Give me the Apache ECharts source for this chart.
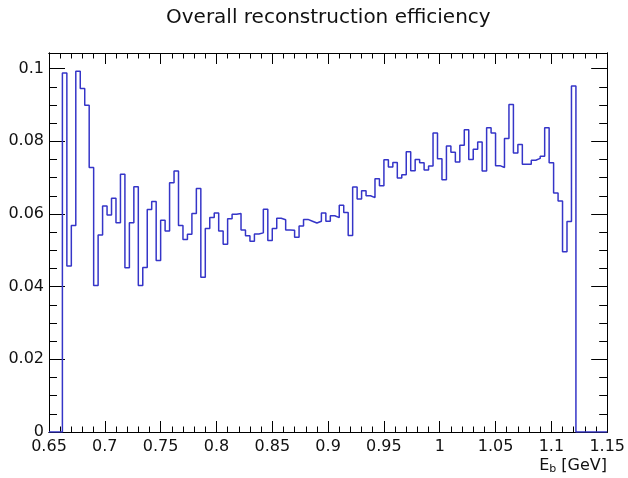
<!DOCTYPE html>
<html>
<head>
<meta charset="utf-8">
<script src="https://cdn.jsdelivr.net/npm/echarts@6/dist/echarts.min.js"></script>
<style>
html,body{margin:0;padding:0;background:#fff;}
#chart{width:628px;height:478px;}
</style>
</head>
<body>
<div id="chart"></div>
<script>
// Histogram binning (GeV)
const binLow = 0.662;
const binWidth = 0.004;
// Efficiency per bin
const efficiency = [
  0.0988, 0.0457, 0.0568, 0.0993, 0.0945, 0.0899, 0.0728, 0.0403, 0.0542, 0.0622,
  0.0597, 0.0643, 0.0576, 0.0709, 0.0452, 0.0576, 0.0675, 0.0403, 0.0453, 0.0612,
  0.0634, 0.0472, 0.0583, 0.0553, 0.0686, 0.0718, 0.0568, 0.0530, 0.0544, 0.0601,
  0.0670, 0.0426, 0.0560, 0.0590, 0.0603, 0.0553, 0.0517, 0.0587, 0.0599, 0.0601,
  0.0556, 0.0540, 0.0525, 0.0545, 0.0548, 0.0613, 0.0527, 0.0560, 0.0588, 0.0584,
  0.0556, 0.0555, 0.0536, 0.0567, 0.0585, 0.0580, 0.0575, 0.0580, 0.0603, 0.0580,
  0.0595, 0.0590, 0.0624, 0.0604, 0.0541, 0.0674, 0.0641, 0.0664, 0.0650, 0.0645,
  0.0697, 0.0678, 0.0749, 0.0729, 0.0742, 0.0699, 0.0708, 0.0771, 0.0719, 0.0750,
  0.0741, 0.0721, 0.0732, 0.0823, 0.0752, 0.0694, 0.0787, 0.0770, 0.0743, 0.0789,
  0.0832, 0.0750, 0.0778, 0.0798, 0.0718, 0.0837, 0.0823, 0.0733, 0.0728, 0.0808,
  0.0901, 0.0768, 0.0791, 0.0737, 0.0737, 0.0748, 0.0753, 0.0759, 0.0837, 0.0741,
  0.0658, 0.0636, 0.0496, 0.0579, 0.0952
];
const xMin = 0.65, xMax = 1.15;
const yMin = 0, yMax = 0.1043;
const xTickLabels = [0.65, 0.7, 0.75, 0.8, 0.85, 0.9, 0.95, 1, 1.05, 1.1, 1.15];
const yTickLabels = [0, 0.02, 0.04, 0.06, 0.08, 0.1];
const titleText = 'Overall reconstruction efficiency';

// minor ticks
const xMinor = [];
for (let i = 66; i < 115; i++) { if (i % 5 !== 0) xMinor.push(i / 100); }
const yMinor = [];
for (let i = 1; i <= 20; i++) { if (i % 4 !== 0) yMinor.push(i * 0.005); }

// step outline of the histogram
const lineData = [[xMin, 0]];
efficiency.forEach((v, k) => lineData.push([+(binLow + k * binWidth).toFixed(4), v]));
lineData.push([+(binLow + efficiency.length * binWidth).toFixed(4), 0]);
lineData.push([xMax, 0]);

const FONT = 'DejaVu Sans';
const black = '#000';
function xAx(pos, ticks, len, labels) {
  return {
    type: 'value', position: pos, min: xMin, max: xMax,
    axisLine: { show: true, onZero: false, lineStyle: { color: black, width: 1 } },
    axisTick: { show: true, inside: true, length: len, customValues: ticks, lineStyle: { color: black, width: 1 } },
    axisLabel: labels ? {
      show: true, customValues: xTickLabels, margin: 7, fontSize: 16, color: '#111', fontFamily: FONT,
      formatter: v => String(+v.toFixed(2))
    } : { show: false },
    splitLine: { show: false }
  };
}
function yAx(pos, ticks, len, labels) {
  return {
    type: 'value', position: pos, min: yMin, max: yMax,
    axisLine: { show: true, onZero: false, lineStyle: { color: black, width: 1 } },
    axisTick: { show: true, inside: true, length: len, customValues: ticks, lineStyle: { color: black, width: 1 } },
    axisLabel: labels ? {
      show: true, customValues: yTickLabels, margin: 5, fontSize: 16, color: '#111', fontFamily: FONT,
      formatter: v => String(+v.toFixed(3))
    } : { show: false },
    splitLine: { show: false }
  };
}

const chart = echarts.init(document.getElementById('chart'), null, { renderer: 'canvas' });
chart.setOption({
  animation: false,
  backgroundColor: '#fff',
  title: [
    {
      text: titleText, left: 166, top: 8, padding: 0,
      textStyle: { fontFamily: FONT, fontSize: 20, fontWeight: 'normal', color: '#111' }
    },
    {
      text: '{e|E}{s|b}{e| [GeV]}', right: 21, top: 456, padding: 0,
      textStyle: {
        fontWeight: 'normal',
        rich: {
          e: { fontFamily: FONT, fontSize: 16, fontWeight: 'normal', color: '#111' },
          s: { fontFamily: FONT, fontSize: 11, fontWeight: 'normal', color: '#111', verticalAlign: 'bottom', padding: [8, 0, 0, 0] }
        }
      }
    }
  ],
  grid: { left: 49, right: 20, top: 53, bottom: 46, containLabel: false },
  xAxis: [
    xAx('bottom', xTickLabels, 11, true),
    xAx('bottom', xMinor, 5.5, false),
    xAx('top', xTickLabels, 11, false),
    xAx('top', xMinor, 5.5, false)
  ],
  yAxis: [
    yAx('left', yTickLabels, 16, true),
    yAx('left', yMinor, 8, false),
    yAx('right', yTickLabels, 16, false),
    yAx('right', yMinor, 8, false)
  ],
  series: [{
    type: 'line', xAxisIndex: 0, yAxisIndex: 0, step: 'end',
    data: lineData, showSymbol: false, symbol: 'none', silent: true,
    lineStyle: { color: '#3535c8', width: 1.5 }
  }]
});
</script>
</body>
</html>
